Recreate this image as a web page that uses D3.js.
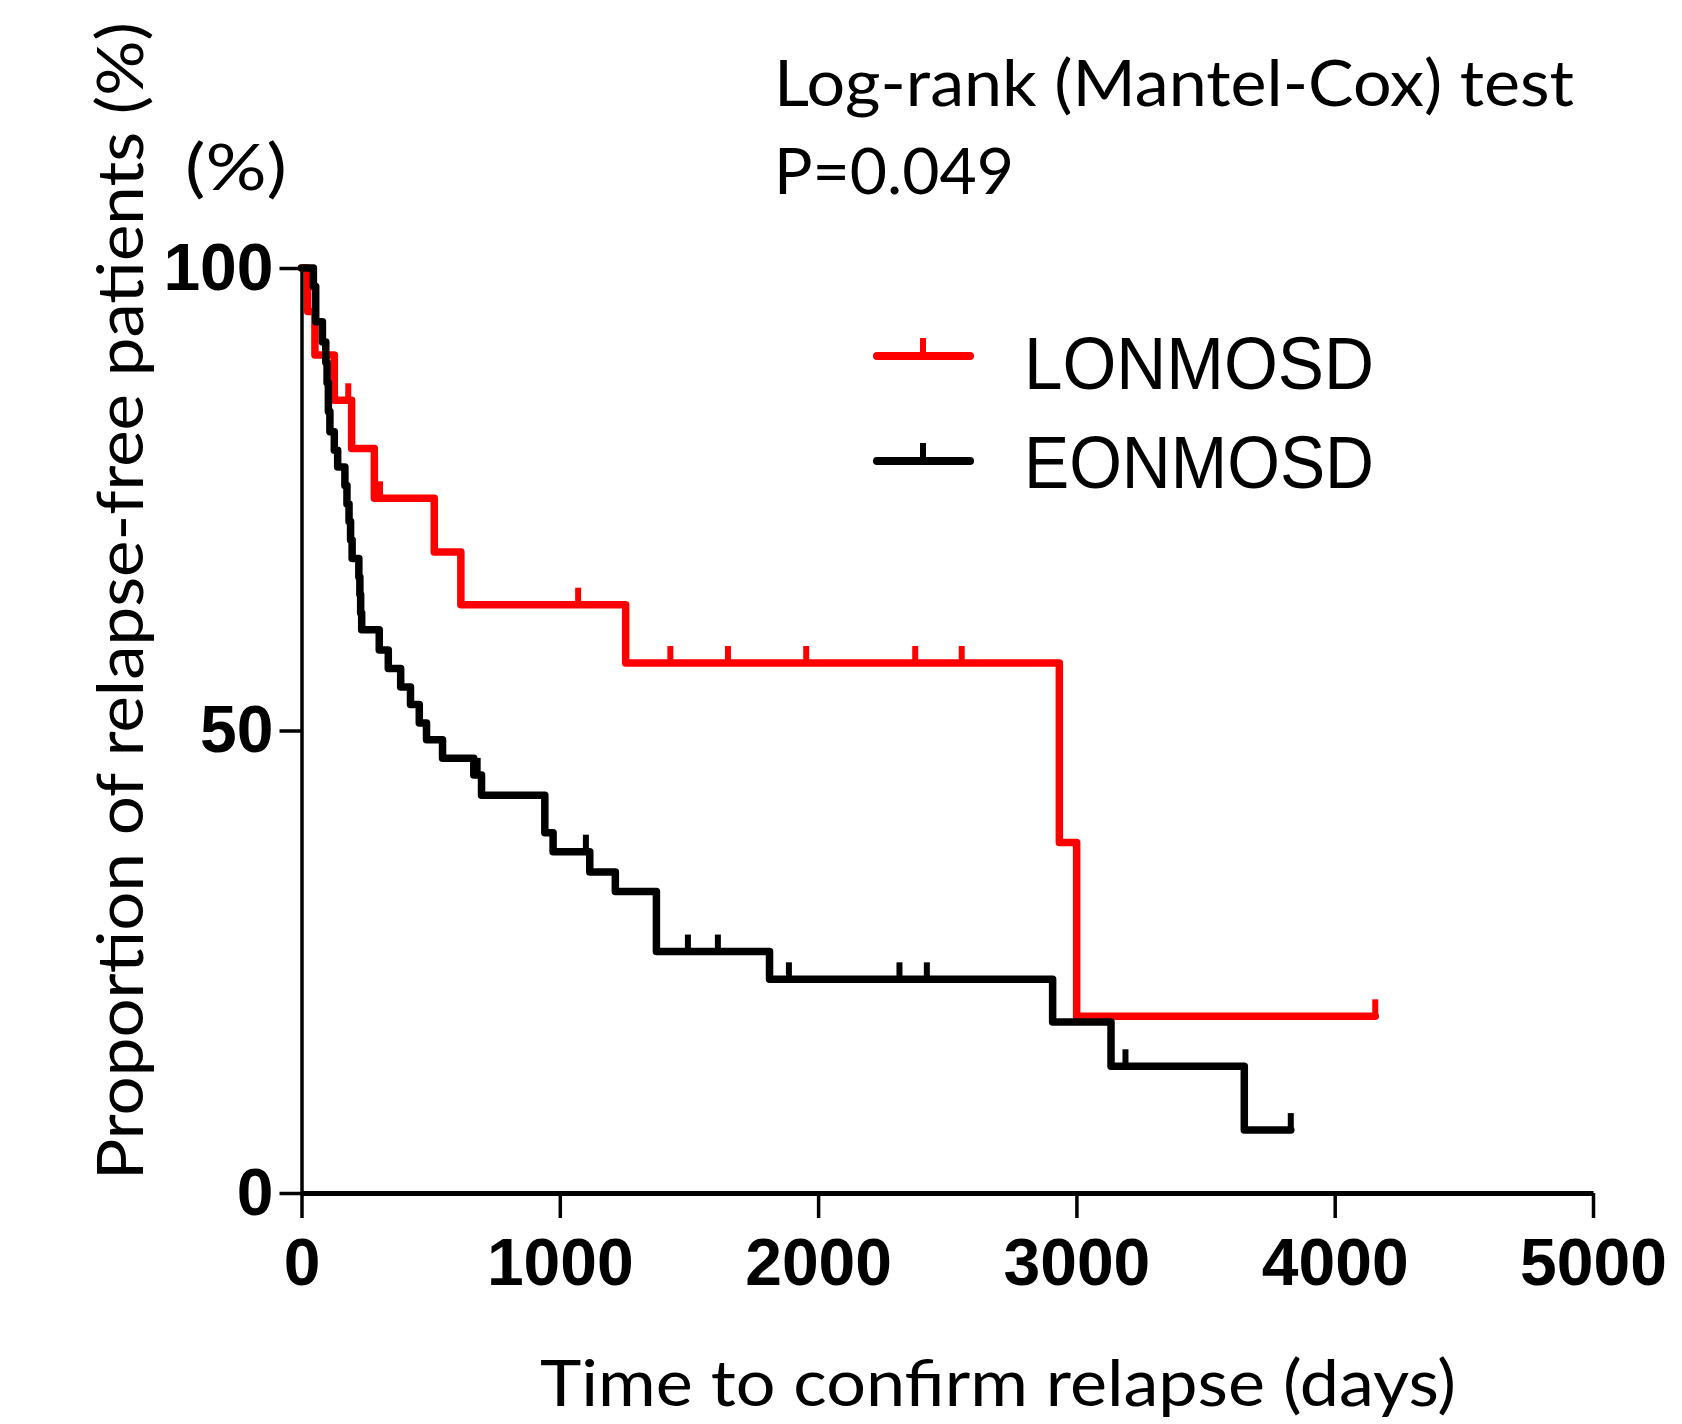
<!DOCTYPE html>
<html>
<head>
<meta charset="utf-8">
<script src="https://cdn.jsdelivr.net/npm/d3@7"></script>
<style>
  body { margin: 0; background: #fff; }
  svg { display: block; }
</style>
</head>
<body>
<svg id="chart"></svg>
<script>
// values (days, % relapse-free)
var redName = "LONMOSD";
var redTimes = [0, 24, 52, 127, 194, 282, 514, 617, 1255, 2934, 3001];
var redSurv = [100, 95.3, 90.6, 85.7, 80.5, 75.1, 69.3, 63.6, 57.3, 37.9, 19.1];
var redEnd = 4157;
var redCensor = [181, 304, 1071, 1428, 1651, 1954, 2376, 2556, 4157];

var blackName = "EONMOSD";
var blackTimes = [0, 46, 55, 81, 94, 99, 104, 110, 127, 140, 168, 176, 184, 190, 196,
    222, 226, 229, 233, 301, 336, 384, 422, 456, 484, 546, 667, 697, 942, 974,
    1116, 1215, 1374, 1812, 2908, 3134, 3650];
var blackSurv = [100, 98.0, 94.2, 92.0, 89.8, 87.6, 84.5, 82.3, 80.3, 78.5, 76.5, 74.5, 72.6, 70.6, 68.6,
    66.6, 64.7, 62.7, 60.9, 58.7, 56.7, 54.7, 52.8, 50.8, 49.0, 47.0, 45.2, 43.0, 38.95, 36.9,
    34.7, 32.6, 26.1, 23.1, 18.5, 13.7, 6.8];
var blackEnd = 3830;
var blackCensor = [682, 1101, 1496, 1612, 1887, 2315, 2421, 3190, 3830];

var xTicks = [0, 1000, 2000, 3000, 4000, 5000];
var yTicks = [0, 50, 100];

var width = 1682, height = 1424;
var calibri = "Lato, 'Open Sans', sans-serif";

var svg = d3.select("#chart").attr("width", width).attr("height", height);

var x = d3.scaleLinear().domain([0, 5000]).range([301.5, 1593]);
var y = d3.scaleLinear().domain([0, 100]).range([1193, 268]);

// axes
var yAxis = svg.append("g")
    .attr("transform", "translate(301.5,0)")
    .call(d3.axisLeft(y).tickValues(yTicks).tickSize(22).tickSizeOuter(0).tickPadding(6));
var xAxis = svg.append("g")
    .attr("transform", "translate(0,1193)")
    .call(d3.axisBottom(x).tickValues(xTicks).tickFormat(d3.format("d"))
        .tickSize(25).tickSizeOuter(0).tickPadding(20));

[yAxis, xAxis].forEach(function (g) {
    g.selectAll("line").attr("stroke", "#000").attr("stroke-width", 3.5);
    g.selectAll("text")
        .attr("fill", "#000")
        .style("font-family", "'Liberation Sans', Arial, sans-serif")
        .style("font-weight", "bold")
        .style("font-size", "66px");
});
yAxis.select(".domain").attr("stroke-width", 3.5);
xAxis.select(".domain").attr("stroke-width", 5);

// step curves
var line = d3.line()
    .x(function (d) { return x(d[0]); })
    .y(function (d) { return y(d[1]); })
    .curve(d3.curveStepAfter);

function points(times, surv, end) {
    var pts = times.map(function (t, i) { return [t, surv[i]]; });
    pts.push([end, surv[surv.length - 1]]);
    return pts;
}

function survAt(times, surv, t) {
    var s = surv[0];
    times.forEach(function (tt, i) { if (tt <= t) s = surv[i]; });
    return s;
}

function drawCurve(times, surv, end, censor, color) {
    svg.append("path")
        .datum(points(times, surv, end))
        .attr("d", line)
        .attr("fill", "none")
        .attr("stroke", color)
        .attr("stroke-width", 7.5)
        .attr("stroke-linejoin", "round")
        .attr("stroke-linecap", "round");

    svg.selectAll(null)
        .data(censor)
        .enter().append("line")
        .attr("x1", function (d) { return x(d); })
        .attr("x2", function (d) { return x(d); })
        .attr("y1", function (d) { return y(survAt(times, surv, d)); })
        .attr("y2", function (d) { return y(survAt(times, surv, d)) - 17; })
        .attr("stroke", color)
        .attr("stroke-width", 6);
}

drawCurve(redTimes, redSurv, redEnd, redCensor, "#ff0000");
drawCurve(blackTimes, blackSurv, blackEnd, blackCensor, "#000000");

// legend
var legend = [
    { name: redName, color: "#ff0000", y: 356, ty: 389 },
    { name: blackName, color: "#000000", y: 461, ty: 488 }
];
legend.forEach(function (d) {
    svg.append("line")
        .attr("x1", 877).attr("x2", 970)
        .attr("y1", d.y).attr("y2", d.y)
        .attr("stroke", d.color).attr("stroke-width", 8)
        .attr("stroke-linecap", "round");
    svg.append("line")
        .attr("x1", 923).attr("x2", 923)
        .attr("y1", d.y).attr("y2", d.y - 18)
        .attr("stroke", d.color).attr("stroke-width", 6);
    svg.append("text")
        .attr("x", 1024).attr("y", d.ty)
        .attr("textLength", 350).attr("lengthAdjust", "spacingAndGlyphs")
        .style("font-family", "'Liberation Sans', Arial, sans-serif")
        .style("font-size", "74px")
        .text(d.name);
});

// texts
function label(txt, xp, yp, len, rotate) {
    var t = svg.append("text")
        .attr("x", xp).attr("y", yp)
        .attr("textLength", len).attr("lengthAdjust", "spacingAndGlyphs")
        .style("font-family", calibri)
        .style("font-size", "64px")
        .text(txt);
    if (rotate) t.attr("transform", "rotate(-90," + xp + "," + yp + ")");
    return t;
}

label("Log-rank (Mantel-Cox) test", 774, 106, 800);
label("P=0.049", 774, 194, 240);
label("(%)", 185, 190, 102);
label("Time to confirm relapse (days)", 540, 1406, 916);
label("Proportion of relapse-free patients (%)", 143, 1180, 1158, true);
</script>
</body>
</html>
